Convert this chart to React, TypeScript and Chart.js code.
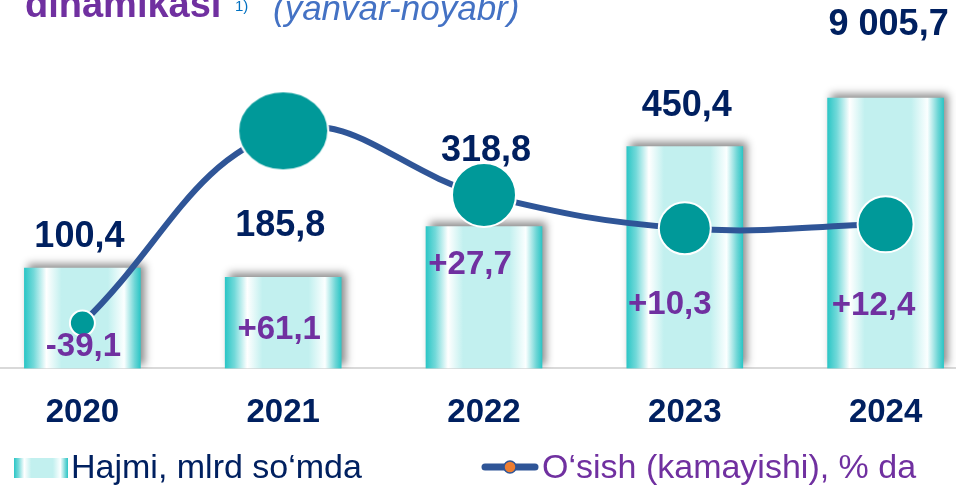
import React, { useEffect, useRef } from 'react';
import { Chart, registerables } from 'chart.js';

Chart.register(...registerables);

// ---- data ----
const years = ['2020', '2021', '2022', '2023', '2024'];
const volumeValues = [100.4, 185.8, 318.8, 450.4, 9005.7];
// bar heights in the original picture are not drawn to scale; read off as % of plot height
const barLevels = [27.2, 24.7, 38.5, 60.2, 73.4];
const growthPct = [-39.1, 61.1, 27.7, 10.3, 12.4];

const fmtVolume = (v: number) => {
  const [i, d] = v.toFixed(1).split('.');
  return i.replace(/\B(?=(\d{3})+(?!\d))/g, ' ') + ',' + d;
};
const fmtPct = (v: number) => (v > 0 ? '+' : '') + v.toFixed(1).replace('.', ',');

// ---- styling ----
const FONT = '"Liberation Sans", Arial, Helvetica, sans-serif';
const SHIFT = 18; // canvas is shifted left so the first/last categories are partly cropped like the original
const CANVAS_W = 1004;
const CANVAS_H = 486;
const BAR_W = 116;
const volOffset = [[-3, -31], [-3, -51], [2, -75], [2, -41], [3, -73]];
const pctOffset = [[1, -21], [-4, -38], [-14, -103], [-15, -63], [-12, -62]];

function barGradient(c: CanvasRenderingContext2D, x0: number, x1: number) {
  const g = c.createLinearGradient(x0, 0, x1, 0);
  g.addColorStop(0, '#2cc6c6');
  g.addColorStop(0.08, '#72d9d9');
  g.addColorStop(0.19, '#ffffff');
  g.addColorStop(0.32, '#c2f0ef');
  g.addColorStop(0.72, '#c2f0ef');
  g.addColorStop(0.86, '#fbffff');
  g.addColorStop(0.95, '#6fd6d6');
  g.addColorStop(1, '#2cc6c6');
  return g;
}

function makeEllipse(rx: number, ry: number) {
  const cv = document.createElement('canvas');
  cv.width = Math.ceil(rx * 2 + 4);
  cv.height = Math.ceil(ry * 2 + 4);
  const c = cv.getContext('2d')!;
  c.beginPath();
  c.ellipse(cv.width / 2, cv.height / 2, rx, ry, 0, 0, Math.PI * 2);
  c.fillStyle = '#009999';
  c.fill();
  c.lineWidth = 2;
  c.strokeStyle = '#ffffff';
  c.stroke();
  return cv;
}

const decor = {
  id: 'decor',
  beforeDatasetDraw(chart: any, args: any) {
    if (args.meta.type === 'bar') {
      const c = chart.ctx;
      c.save();
      c.shadowColor = 'rgba(0,0,0,0.45)';
      c.shadowBlur = 8;
      c.shadowOffsetX = 4;
      c.shadowOffsetY = -4;
    }
  },
  afterDatasetDraw(chart: any, args: any) {
    if (args.meta.type === 'bar') {
      const c = chart.ctx;
      c.restore();
      const p = chart.getDatasetMeta(1).data[0];
      if (p) {
        c.save();
        c.beginPath();
        c.arc(p.x + 2, p.y + 7, 5, 0, Math.PI * 2);
        c.fillStyle = '#ed7d31';
        c.fill();
        c.lineWidth = 1.5;
        c.strokeStyle = '#2f5597';
        c.stroke();
        c.restore();
      }
    }
  },
  afterDatasetsDraw(chart: any) {
    const c = chart.ctx;
    const meta = chart.getDatasetMeta(0);
    c.save();
    c.textAlign = 'center';
    c.textBaseline = 'middle';
    meta.data.forEach((bar: any, i: number) => {
      const { x, y, base } = bar.getProps(['x', 'y', 'base'], true);
      c.font = `bold 36px ${FONT}`;
      c.fillStyle = '#002060';
      c.fillText(fmtVolume(volumeValues[i]), x + volOffset[i][0], y + volOffset[i][1]);
      c.font = `bold 33px ${FONT}`;
      c.fillStyle = '#7030a0';
      c.fillText(fmtPct(growthPct[i]), x + pctOffset[i][0], base + pctOffset[i][1]);
    });
    c.restore();
  },
  afterDraw(chart: any) {
    const c = chart.ctx;
    c.save();
    c.textAlign = 'left';
    c.textBaseline = 'alphabetic';
    // title (cropped at top like the original)
    c.font = `bold 38px ${FONT}`;
    c.fillStyle = '#7030a0';
    c.fillText('dinamikasi', 25 + SHIFT, 17);
    c.font = `15px ${FONT}`;
    c.fillStyle = '#0070c0';
    c.fillText('1)', 235 + SHIFT, 11);
    c.font = `italic 35px ${FONT}`;
    c.fillStyle = '#4472c4';
    c.fillText('(yanvar-noyabr)', 273 + SHIFT, 20);

    // legend
    const sx0 = 14 + SHIFT, sx1 = 68 + SHIFT;
    c.fillStyle = barGradient(c, sx0, sx1);
    c.fillRect(sx0, 458, sx1 - sx0, 20);
    c.font = `34px ${FONT}`;
    c.fillStyle = '#002060';
    c.fillText('Hajmi, mlrd so\u2018mda', 71 + SHIFT, 478);

    c.beginPath();
    c.lineCap = 'round';
    c.lineWidth = 7;
    c.strokeStyle = '#2f5597';
    c.moveTo(485 + SHIFT, 467);
    c.lineTo(535 + SHIFT, 467);
    c.stroke();
    c.beginPath();
    c.arc(510 + SHIFT, 467, 6, 0, Math.PI * 2);
    c.fillStyle = '#ed7d31';
    c.fill();
    c.lineWidth = 1.5;
    c.stroke();
    c.fillStyle = '#7030a0';
    c.fillText('O\u2018sish (kamayishi), % da', 542 + SHIFT, 478);
    c.restore();
  },
};

export default function App() {
  const ref = useRef<HTMLCanvasElement | null>(null);

  useEffect(() => {
    if (!ref.current) return;
    const ellipse = makeEllipse(45, 39.5);
    const chart = new Chart(ref.current, {
      type: 'bar',
      data: {
        labels: years,
        datasets: [
          {
            type: 'bar',
            label: 'Hajmi, mlrd so\u2018mda',
            data: barLevels,
            yAxisID: 'y',
            order: 1,
            barThickness: BAR_W,
            borderWidth: 0,
            backgroundColor: (ctx: any) => {
              const chart = ctx.chart;
              if (!chart.chartArea || ctx.type !== 'data') return '#c2f0ef';
              const x = chart.scales.x.getPixelForValue(ctx.dataIndex);
              return barGradient(chart.ctx, x - BAR_W / 2, x + BAR_W / 2);
            },
          } as any,
          {
            type: 'line',
            label: 'O\u2018sish (kamayishi), % da',
            data: growthPct,
            yAxisID: 'y2',
            order: 0,
            borderColor: '#2f5597',
            borderWidth: 6,
            tension: 0.4,
            pointRadius: [12.5, 42, 32, 26, 28],
            pointStyle: ['circle', ellipse, 'circle', 'circle', 'circle'],
            pointBackgroundColor: '#009999',
            pointBorderColor: '#ffffff',
            pointBorderWidth: 2,
            clip: false,
          } as any,
        ],
      },
      options: {
        animation: false,
        responsive: false,
        layout: { autoPadding: false, padding: { top: 0, left: 0, right: 0, bottom: 28 } },
        plugins: { legend: { display: false }, tooltip: { enabled: false } },
        scales: {
          x: {
            offset: true,
            grid: { display: false, drawTicks: false },
            border: { display: true, color: '#d9d9d9', width: 2 },
            ticks: {
              padding: 25,
              color: '#002060',
              font: { family: FONT, size: 33, weight: 'bold' },
            },
          },
          y: { display: false, min: 0, max: 100 },
          y2: { display: false, min: -62.7, max: 129.3 },
        },
      } as any,
      plugins: [decor],
    });
    return () => chart.destroy();
  }, []);

  return (
    <div style={{ position: 'absolute', left: 0, top: 0, width: 956, height: 486, overflow: 'hidden', background: '#fff' }}>
      <div style={{ position: 'absolute', left: -SHIFT, top: 0, width: CANVAS_W, height: CANVAS_H }}>
        <canvas ref={ref} width={CANVAS_W} height={CANVAS_H} style={{ width: CANVAS_W, height: CANVAS_H, display: 'block' }} />
      </div>
    </div>
  );
}
